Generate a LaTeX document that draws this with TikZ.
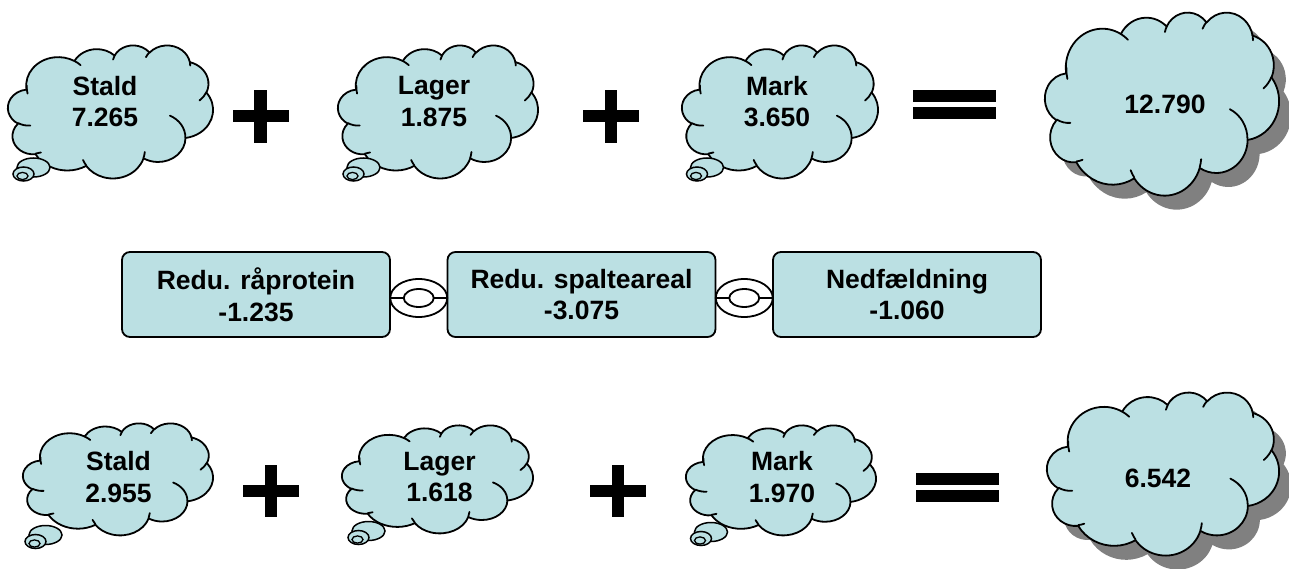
\documentclass[tikz,border=0pt]{standalone}
\usepackage{tikz}
\usepackage{fontspec}
\setmainfont{Liberation Sans}
\usetikzlibrary{shapes.geometric,calc}
\definecolor{cloudfill}{RGB}{187,224,227}
\definecolor{shadowgray}{RGB}{128,128,128}

% OOXML arcTo (visual angles) -> TikZ parametric angles
\newcommand\defarc[5]{%
  \pgfmathsetmacro\tmpA{atan2(#2*sin(#4),#3*cos(#4))}%
  \pgfmathsetmacro\tmpB{atan2(#2*sin(#4+#5),#3*cos(#4+#5))}%
  \pgfmathsetmacro\tmpD{mod(\tmpB-\tmpA+720,360)}%
  \expandafter\xdef\csname arc#1s\endcsname{\tmpA}%
  \expandafter\xdef\csname arc#1d\endcsname{\tmpD}%
}
\defarc{A}{67.53}{91.90}{-190.48748}{123.78053}
\defarc{B}{53.33}{72.67}{-144.10238}{89.94523}
\defarc{C}{43.65}{59.45}{-145.80792}{99.72302}
\defarc{D}{48.57}{65.95}{-130.98607}{117.24173}
\defarc{E}{53.33}{72.73}{-78.70888}{109.02692}
\defarc{F}{67.75}{92.20}{-46.26725}{130.269}
\defarc{G}{57.85}{78.67}{0.62502}{114.03333}
\defarc{H}{67.52}{92.15}{22.4516}{115.17255}
\defarc{I}{77.20}{105.43}{66.24263}{75.71102}
\defarc{J}{43.60}{59.18}{-274.94208}{146.73557}
\defarc{K}{43.45}{59.45}{-246.8285}{152.51885}
\defarc{a}{43.45}{59.45}{86.742}{26.4295}
\defarc{b}{43.60}{59.18}{73.61047}{11.44747}
\defarc{c}{67.52}{92.15}{137.62415}{14.0811}
\defarc{d}{67.52}{92.15}{6.45327}{15.99835}
\defarc{e}{57.85}{78.67}{-70.29235}{70.91737}
\defarc{f}{53.33}{72.73}{30.31803}{27.7515}
\defarc{g}{48.57}{65.95}{-13.74433}{14.85342}
\defarc{h}{48.57}{65.95}{-149.18145}{18.19588}
\defarc{i}{43.65}{59.45}{-163.49427}{17.6881}
\defarc{j}{67.53}{91.90}{-66.70695}{12.31935}
\defarc{k}{67.53}{91.90}{162.21613}{22.27425}

\newcommand\cloudbody{(39.00,143.70)
 arc[start angle=\arcAs,delta angle=\arcAd,x radius=67.53,y radius=91.90]
 arc[start angle=\arcBs,delta angle=\arcBd,x radius=53.33,y radius=72.67]
 arc[start angle=\arcCs,delta angle=\arcCd,x radius=43.65,y radius=59.45]
 arc[start angle=\arcDs,delta angle=\arcDd,x radius=48.57,y radius=65.95]
 arc[start angle=\arcEs,delta angle=\arcEd,x radius=53.33,y radius=72.73]
 arc[start angle=\arcFs,delta angle=\arcFd,x radius=67.75,y radius=92.20]
 arc[start angle=\arcGs,delta angle=\arcGd,x radius=57.85,y radius=78.67]
 arc[start angle=\arcHs,delta angle=\arcHd,x radius=67.52,y radius=92.15]
 arc[start angle=\arcIs,delta angle=\arcId,x radius=77.20,y radius=105.43]
 arc[start angle=\arcJs,delta angle=\arcJd,x radius=43.60,y radius=59.18]
 arc[start angle=\arcKs,delta angle=\arcKd,x radius=43.45,y radius=59.45]
 -- cycle}
\newcommand\cloudcreases{(46.93,261.77) arc[start angle=\arcas,delta angle=\arcad,x radius=43.45,y radius=59.45]
 (69.28,348.99) arc[start angle=\arcbs,delta angle=\arcbd,x radius=43.60,y radius=59.18]
 (164.78,390.90) arc[start angle=\arccs,delta angle=\arccd,x radius=67.52,y radius=92.15]
 (288.27,347.51) arc[start angle=\arcds,delta angle=\arcdd,x radius=67.52,y radius=92.15]
 (341.29,229.54) arc[start angle=\arces,delta angle=\arced,x radius=57.85,y radius=78.67]
 (417.98,153.54) arc[start angle=\arcfs,delta angle=\arcfd,x radius=53.33,y radius=72.73]
 (383.24,54.26) arc[start angle=\arcgs,delta angle=\arcgd,x radius=48.57,y radius=65.95]
 (290.78,39.52) arc[start angle=\archs,delta angle=\archd,x radius=48.57,y radius=65.95]
 (221.41,47.20) arc[start angle=\arcis,delta angle=\arcid,x radius=43.65,y radius=59.45]
 (140.00,51.92) arc[start angle=\arcjs,delta angle=\arcjd,x radius=67.53,y radius=91.90]
 (41.27,157.89) arc[start angle=\arcks,delta angle=\arckd,x radius=67.53,y radius=91.90]}

\tikzset{
  cloudline/.style={draw=black,fill=cloudfill,line width=1.8pt,line join=round},
  creaseline/.style={draw=black,line width=1.8pt,line cap=round},
  bubble/.style={draw=black,fill=cloudfill,line width=1.5pt},
  lbl/.style={font=\bfseries\fontsize{26.5}{31.5}\selectfont,align=center,inner sep=0pt},
  boxnode/.style={draw=black,fill=cloudfill,line width=1.8pt,rounded corners=8pt,
    minimum width=268pt,minimum height=85pt,align=center,inner sep=0pt,
    font=\bfseries\fontsize{26.5}{31.5}\selectfont},
  ringouter/.style={ellipse,draw=black,fill=white,line width=1.8pt,minimum width=57pt,minimum height=38pt,inner sep=0pt},
  ringinner/.style={ellipse,draw=black,fill=white,line width=1.8pt,minimum width=30pt,minimum height=18pt,inner sep=0pt},
  link/.style={draw=black,line width=1.8pt},
  bar/.style={fill=black}
}

% x0 y0 w h (pixels, y downwards)
\newcommand\cloudcallout[4]{%
  \pgfmathsetmacro\cwx{#3/432}\pgfmathsetmacro\chy{#4/432}%
  \begin{scope}[shift={(#1pt,-#2pt)},x=\cwx pt,y=-\chy pt]
    \path[cloudline] \cloudbody;
    \draw[creaseline] \cloudcreases;
  \end{scope}}
\newcommand\bigcloud[4]{%
  \pgfmathsetmacro\cwx{#3/432}\pgfmathsetmacro\chy{#4/432}%
  \begin{scope}[shift={(#1pt+12pt,-#2pt-14pt)},x=\cwx pt,y=-\chy pt]
    \fill[shadowgray] \cloudbody;
  \end{scope}
  \begin{scope}[shift={(#1pt,-#2pt)},x=\cwx pt,y=-\chy pt]
    \path[cloudline] \cloudbody;
    \draw[creaseline] \cloudcreases;
  \end{scope}}
% centre of the big tail bubble
\newcommand\tailbubbles[2]{%
  \path[bubble] (#1,#2) ellipse[x radius=16.5,y radius=9.5];
  \path[bubble] (#1-10,#2+6.5) ellipse[x radius=10.5,y radius=7];
  \path[bubble,line width=1.3pt] (#1-11,#2+8.5) ellipse[x radius=5.5,y radius=3.6];}
\newcommand\plussign[2]{%
  \fill[bar] (#1-28,#2-6.2) rectangle (#1+28,#2+6.2);
  \fill[bar] (#1-6.3,#2-26.3) rectangle (#1+6.3,#2+26.3);}
\newcommand\equalsign[2]{%
  \fill[bar] (#1-41.5,#2-14.5) rectangle (#1+41.5,#2-2.5);
  \fill[bar] (#1-41.5,#2+2.5) rectangle (#1+41.5,#2+14.5);}

\begin{document}
\begin{tikzpicture}[x=1pt,y=-1pt]
\useasboundingbox (0,0) rectangle (1289,569);

% ---- top row ----
\cloudcallout{8}{45}{205}{133}
\tailbubbles{33.5}{167.5}
\cloudcallout{338}{45}{200}{133}
\tailbubbles{363.5}{167.5}
\cloudcallout{682}{45}{196}{133}
\tailbubbles{707}{167.5}
\bigcloud{1045}{12}{234}{183}
\plussign{260.5}{116.3}
\plussign{611}{116.3}
\equalsign{954.5}{104.5}

\node[lbl] (t1) at (105,101.5) {Stald\\7.265};
\node[lbl] (t2) at (434,101.5) {Lager\\1.875};
\node[lbl] (t3) at (777,101.5) {Mark\\3.650};
\node[lbl] (t4) at (1165,104) {12.790};

% ---- middle row ----
\node[boxnode] (b1) at (256,294.5) {Redu. råprotein\\-1.235};
\node[boxnode] (b2) at (581.5,294.5) {Redu. spalteareal\\-3.075};
\node[boxnode] (b3) at (907,294.5) {Nedfældning\\-1.060};
\coordinate (m1) at ($(b1.east)!0.5!(b2.west)+(0,3.5)$);
\coordinate (m2) at ($(b2.east)!0.5!(b3.west)+(0,3.5)$);
\node[ringouter] (o1) at (m1) {};
\node[ringouter] (o2) at (m2) {};
\draw[link] (b1.east |- o1) -- (b2.west |- o1);
\draw[link] (b2.east |- o2) -- (b3.west |- o2);
\node[ringinner] (i1) at (m1) {};
\node[ringinner] (i2) at (m2) {};

% ---- bottom row ----
\cloudcallout{23}{423}{190}{112}
\tailbubbles{45.5}{535}
\cloudcallout{342}{425}{191}{108}
\tailbubbles{368.5}{531}
\cloudcallout{686}{425}{190}{110}
\tailbubbles{711}{532}
\bigcloud{1047}{392}{232}{163}
\plussign{271}{491}
\plussign{618}{491}
\equalsign{957}{487}

\node[lbl] (u1) at (118.5,477) {Stald\\2.955};
\node[lbl] (u2) at (439.5,477) {Lager\\1.618};
\node[lbl] (u3) at (782,477) {Mark\\1.970};
\node[lbl] (u4) at (1158,478) {6.542};
\end{tikzpicture}
\end{document}
